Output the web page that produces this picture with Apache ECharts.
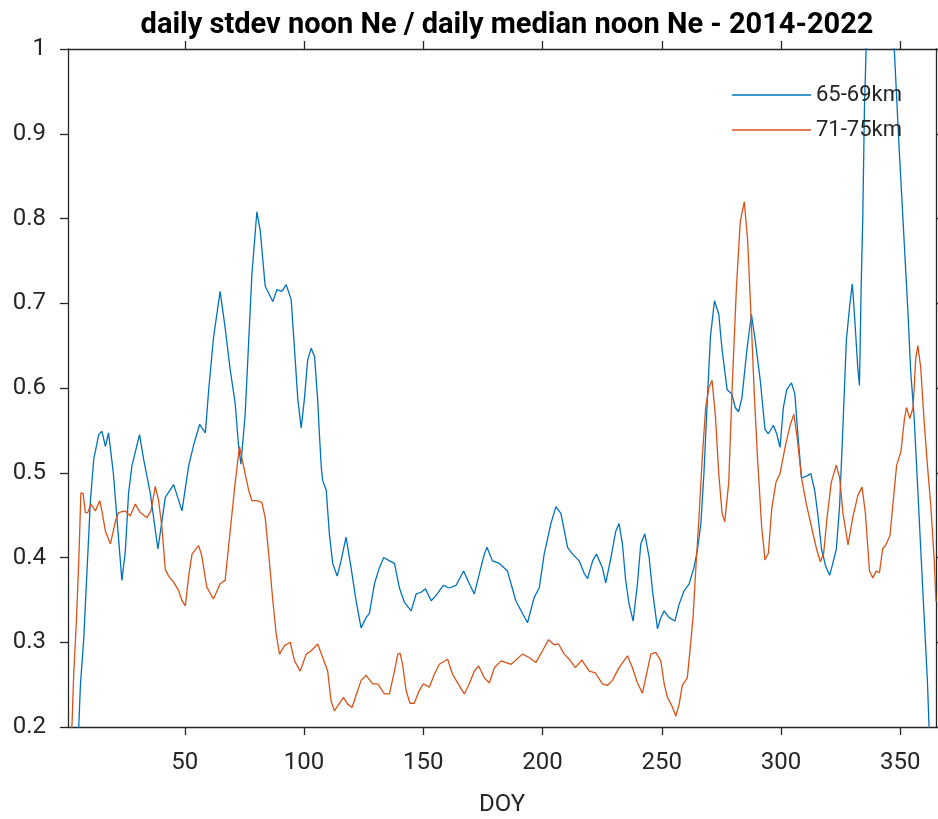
<!DOCTYPE html>
<html>
<head>
<meta charset="utf-8">
<script src="https://cdn.jsdelivr.net/npm/echarts@6/dist/echarts.min.js"></script>
<style>
  html, body { margin: 0; padding: 0; background: #fff; }
  #chart { width: 938px; height: 819px; }
</style>
</head>
<body>
<div id="chart"></div>
<script>
// day of year ticks
var doyTicks = [50, 100, 150, 200, 250, 300, 350]
var seriesNames = ['65-69km', '71-75km']

// [DOY, stdev/median]
var ne6569 = [
  [4, 0.15], [5.5, 0.2], [6.2, 0.249], [7.6, 0.304], [9, 0.386], [10.4, 0.467], [11.8, 0.516],
  [13.9, 0.545], [15.2, 0.549], [16.7, 0.531], [18, 0.547], [18.8, 0.545], [20, 0.5], [21.5, 0.447],
  [23.6, 0.373], [25, 0.406], [26.4, 0.476], [27.8, 0.508], [31, 0.545], [32.7, 0.516], [35.5, 0.476],
  [38.7, 0.41], [40.4, 0.443], [41.8, 0.471], [45.3, 0.486], [48.8, 0.455], [51.6, 0.508], [53.7, 0.533],
  [56.2, 0.557], [58.6, 0.547], [60, 0.598], [62, 0.659], [64.8, 0.714], [66.9, 0.671], [69, 0.622],
  [71.1, 0.582], [72.5, 0.533], [73.5, 0.51], [75.3, 0.569], [76.7, 0.651], [78.1, 0.733], [80.2, 0.808],
  [81.6, 0.786], [83.7, 0.72], [86.9, 0.702], [88.6, 0.716], [90.7, 0.714], [92.5, 0.722], [94.6, 0.704],
  [96, 0.645], [97.4, 0.586], [98.8, 0.553], [100.2, 0.589], [101.5, 0.633], [103, 0.647], [104.4, 0.637],
  [105.7, 0.586], [106.4, 0.547], [107.2, 0.507], [107.8, 0.491], [109.3, 0.479], [110.6, 0.428],
  [112, 0.393], [113.9, 0.378], [115.5, 0.396], [117.6, 0.424], [119.7, 0.388], [121.8, 0.349],
  [123.9, 0.317], [126, 0.329], [127.4, 0.334], [129.5, 0.369], [131.6, 0.388], [133.4, 0.4],
  [135.8, 0.396], [137.9, 0.393], [140, 0.364], [142.1, 0.347], [144.9, 0.337], [147, 0.357],
  [149.1, 0.359], [150.9, 0.363], [153.3, 0.349], [155.3, 0.355], [158.4, 0.367], [160.9, 0.364],
  [163.7, 0.367], [166.9, 0.384], [169.3, 0.369], [171.4, 0.357], [173.5, 0.381], [175.6, 0.404],
  [176.7, 0.412], [179, 0.396], [181.9, 0.393], [185.3, 0.384], [188.8, 0.349], [191.6, 0.334],
  [193.7, 0.323], [196.5, 0.353], [198.6, 0.364], [200.7, 0.404], [203.5, 0.44], [205.6, 0.46],
  [207.7, 0.452], [210.5, 0.412], [212.6, 0.404], [215.4, 0.396], [217.5, 0.381], [218.9, 0.375],
  [221, 0.396], [222.6, 0.404], [225.1, 0.388], [226.5, 0.37], [228.7, 0.4], [230.7, 0.431],
  [232.1, 0.44], [233.5, 0.416], [234.9, 0.372], [236.3, 0.345], [238, 0.325], [239.8, 0.369],
  [241.2, 0.416], [242.9, 0.428], [244.7, 0.4], [246.1, 0.361], [248.2, 0.316], [249.6, 0.329],
  [251, 0.337], [253.1, 0.329], [255.5, 0.325], [257.3, 0.345], [259.4, 0.361], [261.5, 0.369],
  [263.5, 0.388], [264.9, 0.408], [266.4, 0.44], [267.7, 0.5], [269.1, 0.586], [270.4, 0.66],
  [272.1, 0.703], [273.9, 0.687], [275.3, 0.645], [277.4, 0.598], [279.4, 0.593], [280.8, 0.577],
  [282.2, 0.572], [283.6, 0.588], [285.7, 0.645], [287.6, 0.687], [289.2, 0.656], [291.3, 0.609],
  [293.3, 0.551], [294.7, 0.546], [296.8, 0.556], [298.2, 0.546], [299.6, 0.53], [301, 0.577],
  [302.4, 0.598], [304.4, 0.606], [305.8, 0.593], [307.2, 0.541], [308.6, 0.494], [310.7, 0.496],
  [312.5, 0.499], [314.2, 0.478], [315.6, 0.447], [317, 0.41], [318.8, 0.389], [320.4, 0.379],
  [321.8, 0.394], [323.2, 0.41], [324.6, 0.462], [326, 0.556], [327.4, 0.656], [328.8, 0.697],
  [329.9, 0.723], [330.8, 0.687], [332.2, 0.624], [332.9, 0.603], [333.6, 0.718], [334.3, 0.802],
  [335, 0.932], [335.7, 1.0], [338, 1.1], [341, 1.15], [345, 1.1], [347.5, 1.0], [349.6, 0.88],
  [351.3, 0.791], [353.1, 0.697], [354.4, 0.619], [355.8, 0.567], [357.2, 0.489], [358.6, 0.41],
  [360, 0.332], [361.4, 0.254], [362.1, 0.2], [363, 0.15]
]

var ne7175 = [
  [1.5, 0.17], [2.7, 0.204], [3.4, 0.263], [4.5, 0.324], [5.5, 0.394], [6.4, 0.476], [7.3, 0.476],
  [8.3, 0.453], [9.3, 0.453], [10.6, 0.463], [12.5, 0.455], [14.3, 0.467], [15.2, 0.455], [16.7, 0.431],
  [18.8, 0.416], [20.9, 0.443], [22.2, 0.453], [25, 0.455], [27.1, 0.449], [29.2, 0.463], [31.3, 0.453],
  [34.1, 0.447], [35.8, 0.455], [37.6, 0.484], [39, 0.467], [40.4, 0.435], [41.8, 0.386], [43.2, 0.378],
  [45.3, 0.371], [47.4, 0.361], [48.8, 0.349], [50.2, 0.343], [51.6, 0.378], [53, 0.404], [55.8, 0.414],
  [57.1, 0.402], [59.2, 0.365], [62, 0.351], [64.8, 0.369], [66.9, 0.373], [69, 0.431], [71.1, 0.488],
  [72.9, 0.531], [74.6, 0.508], [76.7, 0.48], [78.1, 0.467], [80.2, 0.467], [82.3, 0.465], [83.7, 0.447],
  [85.1, 0.406], [86.9, 0.349], [88.3, 0.31], [89.7, 0.286], [91.8, 0.296], [94.2, 0.3], [96, 0.278],
  [98.4, 0.266], [100.9, 0.286], [103, 0.29], [105.7, 0.298], [107.8, 0.282], [109.9, 0.266],
  [111.3, 0.231], [112.7, 0.219], [114.8, 0.228], [116.5, 0.235], [118.3, 0.227], [120.1, 0.223],
  [122.5, 0.243], [123.9, 0.255], [126, 0.261], [128.8, 0.251], [130.9, 0.251], [133.7, 0.239],
  [135.8, 0.239], [137.9, 0.266], [139.3, 0.286], [140.3, 0.287], [141.3, 0.274], [142.8, 0.243],
  [144.4, 0.228], [146.2, 0.228], [148.3, 0.243], [150, 0.251], [152.5, 0.247], [154.6, 0.262],
  [156.7, 0.274], [160.2, 0.28], [162.3, 0.262], [164.4, 0.252], [167.2, 0.239], [169.3, 0.251],
  [171.4, 0.266], [173.2, 0.272], [175.6, 0.258], [177.7, 0.252], [179.8, 0.27], [182.6, 0.278],
  [186.8, 0.274], [191.6, 0.286], [194.4, 0.282], [197.2, 0.276], [200, 0.29], [202.5, 0.303],
  [204.9, 0.297], [206.7, 0.298], [209.1, 0.286], [211.2, 0.28], [213.7, 0.27], [216.5, 0.279],
  [219.6, 0.266], [222.1, 0.264], [225.1, 0.251], [227.2, 0.249], [229.3, 0.255], [232.1, 0.27],
  [235.6, 0.284], [237.7, 0.27], [239.8, 0.252], [241.9, 0.24], [243.6, 0.262], [245.4, 0.286],
  [247.5, 0.288], [249.6, 0.278], [251, 0.251], [252.4, 0.235], [254.2, 0.225], [255.9, 0.213],
  [257.3, 0.227], [258.6, 0.249], [260.7, 0.258], [262.2, 0.301], [263.1, 0.329], [264.3, 0.388],
  [265.6, 0.447], [267, 0.518], [268.4, 0.577], [269.8, 0.601], [271.1, 0.609], [272.5, 0.567],
  [273.9, 0.499], [275.3, 0.452], [276.4, 0.442], [278.1, 0.489], [279.4, 0.593], [281.3, 0.718],
  [282.9, 0.796], [284.6, 0.82], [286, 0.775], [287.4, 0.687], [288.8, 0.593], [290.2, 0.515],
  [291.9, 0.436], [293.3, 0.397], [294.7, 0.405], [296.1, 0.457], [297.9, 0.489], [299.6, 0.499],
  [301.7, 0.53], [303.8, 0.556], [305.4, 0.569], [306.8, 0.541], [308.6, 0.494], [310.7, 0.462],
  [312.8, 0.436], [314.9, 0.41], [316.5, 0.395], [317.9, 0.405], [319.3, 0.447], [321.1, 0.489],
  [323.2, 0.509], [324.6, 0.494], [326, 0.452], [328.1, 0.415], [330.1, 0.447], [332.2, 0.473],
  [334, 0.483], [335.4, 0.452], [337.1, 0.384], [338.5, 0.376], [339.9, 0.384], [341.3, 0.382],
  [342.6, 0.41], [344, 0.415], [345.7, 0.426], [347.1, 0.468], [348.5, 0.509], [350.3, 0.525],
  [351.7, 0.562], [352.6, 0.577], [354, 0.564], [355.4, 0.577], [356.5, 0.635], [357.4, 0.65],
  [358.6, 0.624], [360, 0.562], [361.4, 0.509], [362.8, 0.462], [364.2, 0.4], [365, 0.348]
]

var axisColor = '#262626'
var fontFamily = 'Roboto, "Liberation Sans", sans-serif'

var chart = echarts.init(document.getElementById('chart'))

var xBase = {
  type: 'value',
  min: 1,
  max: 365,
  axisLine: { show: true, onZero: false, lineStyle: { color: axisColor, width: 1.3 } },
  axisTick: { show: true, inside: false, length: 8, customValues: doyTicks, lineStyle: { color: axisColor, width: 1.3 } },
  splitLine: { show: false }
}
var yBase = {
  type: 'value',
  min: 0.2,
  max: 1,
  interval: 0.1,
  axisLine: { show: true, onZero: false, lineStyle: { color: axisColor, width: 1.3 } },
  axisTick: { show: true, inside: false, length: 8, lineStyle: { color: axisColor, width: 1.3 } },
  splitLine: { show: false }
}

var option = {
  backgroundColor: '#fff',
  animation: false,
  title: {
    text: 'daily stdev noon Ne / daily median noon Ne - 2014-2022',
    left: 502,
    textAlign: 'center',
    top: 6,
    textStyle: { color: '#000', fontSize: 29, fontWeight: 'bold', fontFamily: fontFamily }
  },
  legend: {
    orient: 'vertical',
    left: 727,
    top: 79,
    icon: 'rect',
    itemWidth: 79,
    itemHeight: 1.5,
    itemGap: 13,
    textStyle: { color: axisColor, fontSize: 22, fontFamily: fontFamily },
    data: seriesNames
  },
  grid: { left: 68, right: 2, top: 49, bottom: 92, containLabel: false, outerBoundsMode: 'none' },
  xAxis: [
    Object.assign({}, xBase, {
      position: 'bottom',
      name: 'DOY',
      nameLocation: 'middle',
      nameGap: 66,
      nameTextStyle: { color: axisColor, fontSize: 24, fontFamily: fontFamily },
      axisLabel: { show: true, customValues: doyTicks, margin: 24, color: axisColor, fontSize: 24, fontFamily: fontFamily }
    }),
    Object.assign({}, xBase, { position: 'top', axisLabel: { show: false } })
  ],
  yAxis: [
    Object.assign({}, yBase, {
      position: 'left',
      axisLabel: {
        show: true,
        margin: 22,
        color: axisColor,
        fontSize: 24,
        fontFamily: fontFamily,
        formatter: function (v) { return String(+v.toFixed(1)) }
      }
    }),
    Object.assign({}, yBase, { position: 'right', axisLabel: { show: false } })
  ],
  series: [
    {
      name: seriesNames[0],
      type: 'line',
      data: ne6569,
      symbol: 'none',
      clip: true,
      color: '#0072BD',
      lineStyle: { color: '#0072BD', width: 1.3 }
    },
    {
      name: seriesNames[1],
      type: 'line',
      data: ne7175,
      symbol: 'none',
      clip: true,
      color: '#D95319',
      lineStyle: { color: '#D95319', width: 1.3 }
    }
  ]
}
chart.setOption(option)
</script>
</body>
</html>
